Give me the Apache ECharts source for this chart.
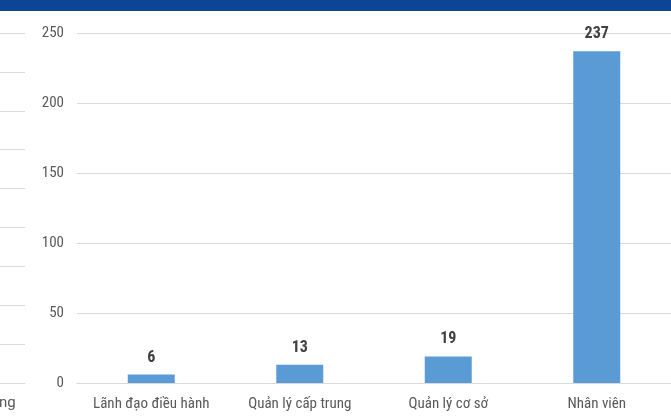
<!DOCTYPE html>
<html>
<head>
<meta charset="utf-8">
<script src="https://cdn.jsdelivr.net/npm/echarts@6/dist/echarts.min.js"></script>
<style>
html,body{margin:0;padding:0;background:#fff;}
#c{width:671px;height:417px;}
</style>
</head>
<body>
<div id="c"></div>
<script>
const categories = ['Lãnh đạo điều hành', 'Quản lý cấp trung', 'Quản lý cơ sở', 'Nhân viên'];
const values = [6, 13, 19, 237];
const yTicks = [0, 50, 100, 150, 200, 250];
const leftFragmentLabel = 'ng';

const chart = echarts.init(document.getElementById('c'), null, {renderer: 'canvas'});
const font = '"Liberation Sans Narrow", "Roboto Condensed", Roboto, sans-serif';
chart.setOption({
  animation: false,
  backgroundColor: '#ffffff',
  graphic: [
    {type: 'rect', left: 0, top: 0, shape: {width: 671, height: 11}, style: {fill: '#0d4596'}},
    {type: 'text', left: -1, top: 396, style: {text: leftFragmentLabel, fill: '#595959', font: '15px "Liberation Sans Narrow", Roboto, sans-serif'}}
  ],
  grid: [
    {left: 77, right: -1, top: 33, bottom: 34, containLabel: false},
    {left: 0, width: 25, top: 33, bottom: 34, containLabel: false}
  ],
  xAxis: [
    {
      type: 'category', gridIndex: 0, data: categories,
      axisLine: {show: true, lineStyle: {color: '#d9d9d9', width: 1}},
      axisTick: {show: false},
      axisLabel: {color: '#595959', fontFamily: font, fontSize: 15, margin: 14, interval: 0}
    },
    {
      type: 'category', gridIndex: 1, data: [''],
      axisLine: {show: true, lineStyle: {color: '#d9d9d9'}},
      axisTick: {show: false}, axisLabel: {show: false}
    }
  ],
  yAxis: [
    {
      type: 'value', gridIndex: 0, min: yTicks[0], max: yTicks[yTicks.length - 1], interval: 50,
      axisLine: {show: false}, axisTick: {show: false},
      splitLine: {lineStyle: {color: '#d9d9d9', width: 1}},
      axisLabel: {color: '#595959', fontFamily: font, fontSize: 15, margin: 13}
    },
    {
      type: 'value', gridIndex: 1, min: 0, max: 9, interval: 1,
      axisLine: {show: false}, axisTick: {show: false},
      splitLine: {lineStyle: {color: '#d9d9d9', width: 1}},
      axisLabel: {show: false}
    }
  ],
  series: [{
    type: 'bar', xAxisIndex: 0, yAxisIndex: 0,
    data: values, barWidth: 47,
    itemStyle: {color: '#5b9bd5'},
    label: {show: true, position: 'top', distance: 9, color: '#404040',
      fontFamily: font, fontSize: 16, fontWeight: 'bold'}
  }]
});
</script>
</body>
</html>
